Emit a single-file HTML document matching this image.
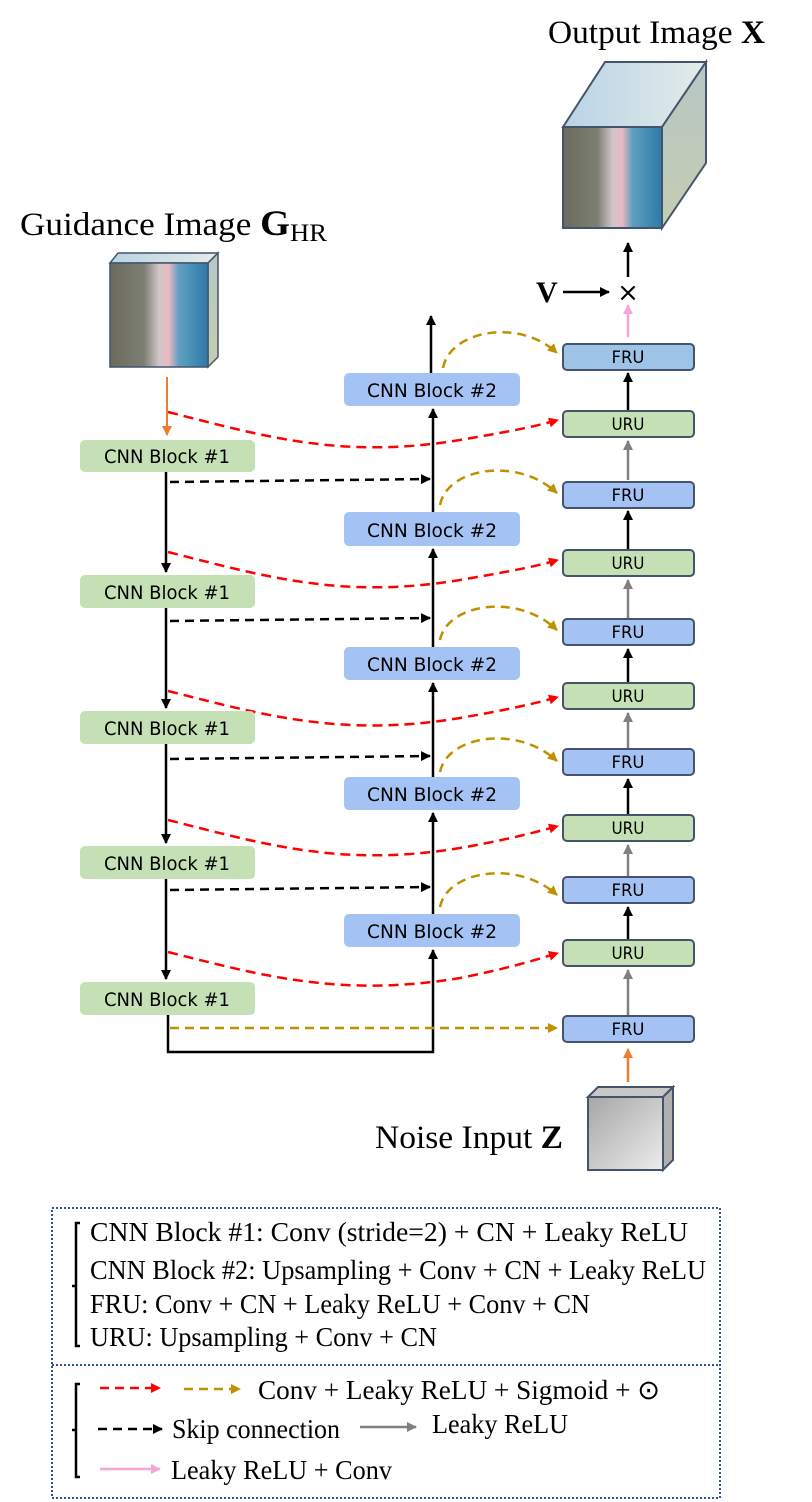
<!DOCTYPE html>
<html><head><meta charset="utf-8"><style>
html,body{margin:0;padding:0;background:#fff;}
svg{display:block;}
.t{font-family:"Liberation Serif",serif;fill:#000;}
.b{font-family:"DejaVu Sans","Liberation Sans",sans-serif;font-size:19px;fill:#000;text-anchor:middle;}
.s{font-family:"DejaVu Sans","Liberation Sans",sans-serif;font-size:17px;fill:#000;text-anchor:middle;}
</style></head><body>
<svg width="812" height="1502" viewBox="0 0 812 1502" xmlns="http://www.w3.org/2000/svg">
<defs>
<marker id="ak" markerWidth="10" markerHeight="10" refX="9" refY="5" orient="auto" markerUnits="userSpaceOnUse"><path d="M0,0 L10,5 L0,10 z" fill="#000"/></marker>
<marker id="ar" markerWidth="10" markerHeight="10" refX="9" refY="5" orient="auto" markerUnits="userSpaceOnUse"><path d="M0,0 L10,5 L0,10 z" fill="#ff0000"/></marker>
<marker id="ag" markerWidth="10" markerHeight="10" refX="9" refY="5" orient="auto" markerUnits="userSpaceOnUse"><path d="M0,0 L10,5 L0,10 z" fill="#bf9000"/></marker>
<marker id="ay" markerWidth="10" markerHeight="10" refX="9" refY="5" orient="auto" markerUnits="userSpaceOnUse"><path d="M0,0 L10,5 L0,10 z" fill="#808080"/></marker>
<marker id="ao" markerWidth="10" markerHeight="10" refX="9" refY="5" orient="auto" markerUnits="userSpaceOnUse"><path d="M0,0 L10,5 L0,10 z" fill="#ed7d31"/></marker>
<marker id="ap" markerWidth="10" markerHeight="10" refX="9" refY="5" orient="auto" markerUnits="userSpaceOnUse"><path d="M0,0 L10,5 L0,10 z" fill="#f4a6d7"/></marker>
<linearGradient id="sat" x1="0" y1="0" x2="1" y2="0">
<stop offset="0" stop-color="#6a6a5e"/><stop offset="0.35" stop-color="#7e7f74"/><stop offset="0.5" stop-color="#cfc6c8"/><stop offset="0.6" stop-color="#e8b9c0"/><stop offset="0.7" stop-color="#5fa0c0"/><stop offset="1" stop-color="#2e79a8"/></linearGradient>
<linearGradient id="top" x1="0" y1="0" x2="1" y2="0"><stop offset="0" stop-color="#b9d3e6"/><stop offset="1" stop-color="#e3ece8"/></linearGradient>
<linearGradient id="side" x1="0" y1="0" x2="0" y2="1"><stop offset="0" stop-color="#b7c7c6"/><stop offset="1" stop-color="#c5ccb0"/></linearGradient>
<linearGradient id="gray" x1="0" y1="0" x2="1" y2="1"><stop offset="0" stop-color="#a6a6a6"/><stop offset="1" stop-color="#ececec"/></linearGradient>
</defs>

<text class="t" x="548" y="43" font-size="33" textLength="217" lengthAdjust="spacingAndGlyphs">Output Image <tspan font-weight="bold">X</tspan></text>
<text class="t" x="20" y="235" font-size="33" textLength="307" lengthAdjust="spacingAndGlyphs">Guidance Image <tspan font-weight="bold" font-size="36">G</tspan><tspan font-size="25" dy="6">HR</tspan></text>

<polygon points="563,127 605,62 706,62 662,127" fill="url(#top)" stroke="#44546a" stroke-width="2"/>
<polygon points="662,127 706,62 706,163 662,228" fill="url(#side)" stroke="#44546a" stroke-width="2"/>
<rect x="563" y="127" width="99" height="101" fill="url(#sat)" stroke="#44546a" stroke-width="2"/>

<polygon points="110,263 118,253 218,253 208,263" fill="url(#top)" stroke="#44546a" stroke-width="1.5"/>
<polygon points="208,263 218,253 218,357 208,367" fill="url(#side)" stroke="#44546a" stroke-width="1.5"/>
<rect x="110" y="263" width="98" height="104" fill="url(#sat)" stroke="#44546a" stroke-width="1.5"/>

<polygon points="588,1097 598,1087 673,1087 663,1097" fill="#c8c8c8" stroke="#44546a" stroke-width="2"/>
<polygon points="663,1097 673,1087 673,1160 663,1170" fill="#b0b0b0" stroke="#44546a" stroke-width="2"/>
<rect x="588" y="1097" width="75" height="73" fill="url(#gray)" stroke="#44546a" stroke-width="2"/>
<text class="t" x="375" y="1148" font-size="33" textLength="188" lengthAdjust="spacingAndGlyphs">Noise Input <tspan font-weight="bold">Z</tspan></text>

<text class="t" x="536" y="302" font-size="30" font-weight="bold">V</text>
<line x1="563" y1="292" x2="609" y2="292" stroke="#000" stroke-width="2.5" marker-end="url(#ak)"/>
<text x="628" y="301" font-family="DejaVu Sans,sans-serif" font-size="26" text-anchor="middle">×</text>
<line x1="628" y1="277" x2="628" y2="243" stroke="#000" stroke-width="2.5" marker-end="url(#ak)"/>
<line x1="628" y1="337" x2="628" y2="305" stroke="#f4a6d7" stroke-width="2.5" marker-end="url(#ap)"/>

<line x1="167" y1="377" x2="167" y2="435" stroke="#ed7d31" stroke-width="2" marker-end="url(#ao)"/>
<line x1="628" y1="1082" x2="628" y2="1049" stroke="#ed7d31" stroke-width="2.5" marker-end="url(#ao)"/>

<g stroke="#000" stroke-width="2.5" fill="none">
<line x1="166" y1="472" x2="166" y2="572" marker-end="url(#ak)"/>
<line x1="166" y1="608" x2="166" y2="708" marker-end="url(#ak)"/>
<line x1="166" y1="744" x2="166" y2="843" marker-end="url(#ak)"/>
<line x1="166" y1="879" x2="166" y2="979" marker-end="url(#ak)"/>
<polyline points="168,1015 168,1052 433,1052 433,950" marker-end="url(#ak)"/>
<line x1="433" y1="914" x2="433" y2="813" marker-end="url(#ak)"/>
<line x1="433" y1="777" x2="433" y2="683" marker-end="url(#ak)"/>
<line x1="433" y1="647" x2="433" y2="549" marker-end="url(#ak)"/>
<line x1="433" y1="512" x2="433" y2="409" marker-end="url(#ak)"/>
<line x1="431" y1="373" x2="431" y2="316" marker-end="url(#ak)"/>
</g>

<g stroke="#000" stroke-width="2.5" stroke-dasharray="9,6" fill="none">
<line x1="170" y1="482" x2="430" y2="479" marker-end="url(#ak)"/>
<line x1="170" y1="621" x2="430" y2="618" marker-end="url(#ak)"/>
<line x1="170" y1="759" x2="430" y2="756" marker-end="url(#ak)"/>
<line x1="170" y1="890" x2="430" y2="887" marker-end="url(#ak)"/>
</g>

<g stroke="#ff0000" stroke-width="2.5" stroke-dasharray="10,6" fill="none">
<path d="M168,412 C260,435 340,460 460,440 C500,433 530,428 558,420" marker-end="url(#ar)"/>
<path d="M168,552 C260,575 340,600 460,580 C500,573 530,568 558,560" marker-end="url(#ar)"/>
<path d="M168,691 C260,714 340,738 460,718 C500,711 530,705 558,697" marker-end="url(#ar)"/>
<path d="M168,820 C260,843 340,868 460,848 C500,841 530,834 558,826" marker-end="url(#ar)"/>
<path d="M168,952 C260,975 340,998 460,978 C500,970 530,962 558,953" marker-end="url(#ar)"/>
</g>

<g stroke="#bf9000" stroke-width="2.5" stroke-dasharray="9,6" fill="none">
<path d="M443,368 C450,330 520,318 557,353" marker-end="url(#ag)"/>
<path d="M440,505 C447,468 517,456 557,493" marker-end="url(#ag)"/>
<path d="M440,640 C447,604 517,592 557,630" marker-end="url(#ag)"/>
<path d="M440,772 C447,736 517,724 557,761" marker-end="url(#ag)"/>
<path d="M440,907 C447,871 517,859 557,895" marker-end="url(#ag)"/>
<line x1="170" y1="1028" x2="557" y2="1028" marker-end="url(#ag)"/>
</g>

<g stroke-width="2.5">
<line x1="628" y1="410" x2="628" y2="373" stroke="#000" marker-end="url(#ak)"/>
<line x1="628" y1="480" x2="628" y2="441" stroke="#808080" marker-end="url(#ay)"/>
<line x1="628" y1="549" x2="628" y2="511" stroke="#000" marker-end="url(#ak)"/>
<line x1="628" y1="618" x2="628" y2="580" stroke="#808080" marker-end="url(#ay)"/>
<line x1="628" y1="682" x2="628" y2="649" stroke="#000" marker-end="url(#ak)"/>
<line x1="628" y1="748" x2="628" y2="713" stroke="#808080" marker-end="url(#ay)"/>
<line x1="628" y1="814" x2="628" y2="779" stroke="#000" marker-end="url(#ak)"/>
<line x1="628" y1="876" x2="628" y2="845" stroke="#808080" marker-end="url(#ay)"/>
<line x1="628" y1="939" x2="628" y2="907" stroke="#000" marker-end="url(#ak)"/>
<line x1="628" y1="1015" x2="628" y2="970" stroke="#808080" marker-end="url(#ay)"/>
</g>

<g fill="#c5e0b4">
<rect x="80" y="440" width="175" height="32" rx="5"/>
<rect x="80" y="575" width="175" height="33" rx="5"/>
<rect x="80" y="711" width="175" height="33" rx="5"/>
<rect x="80" y="846" width="175" height="33" rx="5"/>
<rect x="80" y="982" width="175" height="33" rx="5"/>
</g>
<g class="b">
<text x="167" y="463" textLength="126" lengthAdjust="spacingAndGlyphs">CNN Block #1</text>
<text x="167" y="599" textLength="126" lengthAdjust="spacingAndGlyphs">CNN Block #1</text>
<text x="167" y="735" textLength="126" lengthAdjust="spacingAndGlyphs">CNN Block #1</text>
<text x="167" y="870" textLength="126" lengthAdjust="spacingAndGlyphs">CNN Block #1</text>
<text x="167" y="1006" textLength="126" lengthAdjust="spacingAndGlyphs">CNN Block #1</text>
</g>

<g fill="#a4c2f4">
<rect x="344" y="373" width="176" height="33" rx="5"/>
<rect x="344" y="512" width="176" height="34" rx="5"/>
<rect x="344" y="647" width="176" height="33" rx="5"/>
<rect x="344" y="777" width="176" height="33" rx="5"/>
<rect x="344" y="914" width="176" height="33" rx="5"/>
</g>
<g class="b">
<text x="432" y="397" textLength="130" lengthAdjust="spacingAndGlyphs">CNN Block #2</text>
<text x="432" y="537" textLength="130" lengthAdjust="spacingAndGlyphs">CNN Block #2</text>
<text x="432" y="671" textLength="130" lengthAdjust="spacingAndGlyphs">CNN Block #2</text>
<text x="432" y="801" textLength="130" lengthAdjust="spacingAndGlyphs">CNN Block #2</text>
<text x="432" y="938" textLength="130" lengthAdjust="spacingAndGlyphs">CNN Block #2</text>
</g>

<g stroke="#44546a" stroke-width="2">
<rect x="563" y="344" width="131" height="26" rx="4" fill="#9dc3e6"/>
<rect x="563" y="411" width="131" height="26" rx="4" fill="#c5e0b4"/>
<rect x="563" y="482" width="131" height="26" rx="4" fill="#a4c2f4"/>
<rect x="563" y="550" width="131" height="26" rx="4" fill="#c5e0b4"/>
<rect x="563" y="619" width="131" height="26" rx="4" fill="#a4c2f4"/>
<rect x="563" y="683" width="131" height="26" rx="4" fill="#c5e0b4"/>
<rect x="563" y="749" width="131" height="26" rx="4" fill="#a4c2f4"/>
<rect x="563" y="815" width="131" height="26" rx="4" fill="#c5e0b4"/>
<rect x="563" y="877" width="131" height="26" rx="4" fill="#a4c2f4"/>
<rect x="563" y="940" width="131" height="26" rx="4" fill="#c5e0b4"/>
<rect x="563" y="1016" width="131" height="26" rx="4" fill="#a4c2f4"/>
</g>
<g class="s">
<text x="628" y="363" textLength="33" lengthAdjust="spacingAndGlyphs">FRU</text>
<text x="628" y="430" textLength="33" lengthAdjust="spacingAndGlyphs">URU</text>
<text x="628" y="501" textLength="33" lengthAdjust="spacingAndGlyphs">FRU</text>
<text x="628" y="569" textLength="33" lengthAdjust="spacingAndGlyphs">URU</text>
<text x="628" y="638" textLength="33" lengthAdjust="spacingAndGlyphs">FRU</text>
<text x="628" y="702" textLength="33" lengthAdjust="spacingAndGlyphs">URU</text>
<text x="628" y="768" textLength="33" lengthAdjust="spacingAndGlyphs">FRU</text>
<text x="628" y="834" textLength="33" lengthAdjust="spacingAndGlyphs">URU</text>
<text x="628" y="896" textLength="33" lengthAdjust="spacingAndGlyphs">FRU</text>
<text x="628" y="959" textLength="33" lengthAdjust="spacingAndGlyphs">URU</text>
<text x="628" y="1035" textLength="33" lengthAdjust="spacingAndGlyphs">FRU</text>
</g>

<g stroke="#2f5597" stroke-width="2" stroke-dasharray="2,2" fill="none">
<rect x="52" y="1208" width="668" height="290"/>
<line x1="52" y1="1365" x2="720" y2="1365"/>
</g>
<g stroke="#000" stroke-width="2.5" fill="none">
<path d="M80,1223 L76,1223 L76,1346 L80,1346 M76,1286 L72,1286"/>
<path d="M80,1384 L76,1384 L76,1477 L80,1477 M76,1430 L72,1430"/>
</g>
<g class="t" font-size="27">
<text x="90" y="1241" textLength="598" lengthAdjust="spacingAndGlyphs">CNN Block #1: Conv (stride=2) + CN + Leaky ReLU</text>
<text x="90" y="1279" textLength="616" lengthAdjust="spacingAndGlyphs">CNN Block #2: Upsampling + Conv + CN + Leaky ReLU</text>
<text x="90" y="1313" textLength="500" lengthAdjust="spacingAndGlyphs">FRU: Conv + CN + Leaky ReLU + Conv + CN</text>
<text x="90" y="1346" textLength="347" lengthAdjust="spacingAndGlyphs">URU: Upsampling + Conv + CN</text>
<text x="258" y="1399" textLength="402" lengthAdjust="spacingAndGlyphs">Conv + Leaky ReLU + Sigmoid + ⊙</text>
<text x="172" y="1438" textLength="168" lengthAdjust="spacingAndGlyphs">Skip connection</text>
<text x="432" y="1433" textLength="136" lengthAdjust="spacingAndGlyphs">Leaky ReLU</text>
<text x="171" y="1479" textLength="221" lengthAdjust="spacingAndGlyphs">Leaky ReLU + Conv</text>
</g>
<g stroke-width="2.5">
<line x1="100" y1="1388" x2="160" y2="1388" stroke="#ff0000" stroke-dasharray="9,6" marker-end="url(#ar)"/>
<line x1="184" y1="1389" x2="240" y2="1389" stroke="#bf9000" stroke-dasharray="9,6" marker-end="url(#ag)"/>
<line x1="98" y1="1429" x2="162" y2="1429" stroke="#000" stroke-dasharray="9,6" marker-end="url(#ak)"/>
<line x1="360" y1="1427" x2="416" y2="1427" stroke="#808080" marker-end="url(#ay)"/>
<line x1="100" y1="1469" x2="160" y2="1469" stroke="#f4a6d7" marker-end="url(#ap)"/>
</g>
</svg>
</body></html>
